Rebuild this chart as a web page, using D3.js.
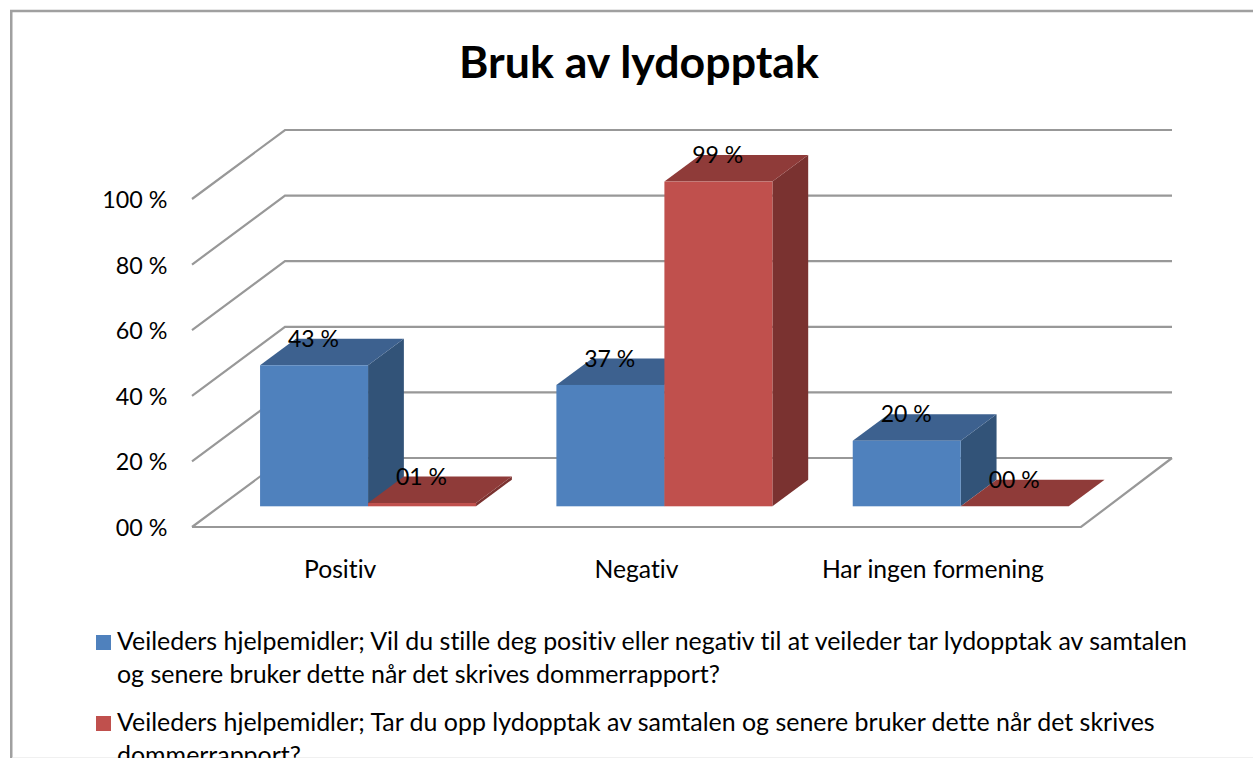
<!DOCTYPE html>
<html><head><meta charset="utf-8">
<script src="https://cdnjs.cloudflare.com/ajax/libs/d3/7.8.5/d3.min.js"></script>
<style>html,body{margin:0;padding:0;background:#fff;overflow:hidden}svg{display:block}text{font-family:Lato,"Open Sans",sans-serif;fill:#000;font-variant-ligatures:none}</style>
</head><body><svg id="c" width="1253" height="758"></svg>
<script>
const chartTitle = "Bruk av lydopptak";
const categories = ["Positiv","Negativ","Har ingen formening"];
const seriesA = [43,37,20];
const seriesB = [1,99,0];
const labelsA = ["43 %","37 %","20 %"];
const labelsB = ["01 %","99 %","00 %"];
const yTicks = [0,20,40,60,80,100];
const yTickLabels = ["00 %","20 %","40 %","60 %","80 %","100 %"];
const legendA = ["Veileders hjelpemidler; Vil du stille deg positiv eller negativ til at veileder tar lydopptak av samtalen","og senere bruker dette når det skrives dommerrapport?"];
const legendB = ["Veileders hjelpemidler; Tar du opp lydopptak av samtalen og senere bruker dette når det skrives","dommerrapport?"];
const colA = {front:"#4f81bd",top:"#3d618f",side:"#325378"};
const colB = {front:"#c0504d",top:"#8f3b39",side:"#7a3230"};

const svg = d3.select("#c");
const grid = "#989898";
// chart frame
svg.append("path").attr("d","M11.25,758V11H1253").attr("fill","none").attr("stroke","#a0a0a0").attr("stroke-width",2.5);
svg.append("path").attr("d","M12.5,757.5H1253").attr("fill","none").attr("stroke","#f0f0f0").attr("stroke-width",1);

svg.append("text").attr("x",639).attr("y",78).attr("text-anchor","middle").attr("font-size",44.7).attr("font-weight",700).text(chartTitle);

const depth = {x:93,y:-69};
const y = d3.scaleLinear().domain([0,100]).range([527,199]);
const x = d3.scaleBand().domain(categories).range([192,1081]);
const barFrac = 0.30, barDepthFrac = 0.385;
const inner = d3.scaleBand().domain([0,1]).range([0,216]);
const gridG = svg.append("g").attr("fill","none").attr("stroke",grid).attr("stroke-width",2.2);
yTicks.forEach(t=>{
  const y0=y(t);
  gridG.append("path").attr("d",`M${x.range()[0]},${y0}L${x.range()[0]+depth.x},${y0+depth.y}L1172,${y0+depth.y}`);
});
gridG.append("path").attr("d",`M192,527L1081,527L1172,458`);

yTicks.forEach((t,i)=>{
  svg.append("text").attr("x",167.5).attr("y",y(t)+9).attr("text-anchor","end").attr("font-size",23.3).text(yTickLabels[i]);
});
categories.forEach(c=>{
  svg.append("text").attr("x",x(c)+x.bandwidth()/2).attr("y",578).attr("text-anchor","middle").attr("font-size",24.7).text(c);
});

const dx0 = depth.x*barFrac, dy0 = depth.y*barFrac;
const dw = depth.x*barDepthFrac, dh = depth.y*barDepthFrac;
const h = d3.scaleLinear().domain([0,100]).range([0,y(0)-y(100)]);
function bar(catIdx, si, v, col){
  const x0 = x(categories[catIdx]) + (x.bandwidth()-216)/2 + dx0 + inner(si);
  const x1 = x0 + inner.bandwidth();
  const yb = 527 + dy0;
  const yt = yb - h(v);
  const g = svg.append("g");
  g.append("path").attr("d",`M${x1},${yb}L${x1+dw},${yb+dh}L${x1+dw},${yt+dh}L${x1},${yt}Z`).attr("fill",col.side);
  g.append("path").attr("d",`M${x0},${yt}L${x0+dw},${yt+dh}L${x1+dw},${yt+dh}L${x1},${yt}Z`).attr("fill",col.top);
  g.append("rect").attr("x",x0).attr("y",yt).attr("width",x1-x0).attr("height",yb-yt).attr("fill",col.front);
  return {cx:x0+inner.bandwidth()/2+dw/2, ty:yt+dh/2};
}
const pos=[];
categories.forEach((c,i)=>{
  pos.push([bar(i,0,seriesA[i],colA),labelsA[i]]);
  pos.push([bar(i,1,seriesB[i],colB),labelsB[i]]);
});
pos.forEach(([p,l])=>{
  svg.append("text").attr("x",p.cx-18.5).attr("y",p.ty-5).attr("text-anchor","middle").attr("font-size",23).text(l);
});

// legend
const lg = [[legendA,colA.front,650],[legendB,colB.front,731]];
lg.forEach(([lines,c,yy])=>{
  svg.append("rect").attr("x",96).attr("y",yy-15).attr("width",15).attr("height",15).attr("fill",c);
  lines.forEach((t,i)=>svg.append("text").attr("x",117).attr("y",yy+i*33).attr("font-size",24.95).text(t));
});
</script></body></html>
